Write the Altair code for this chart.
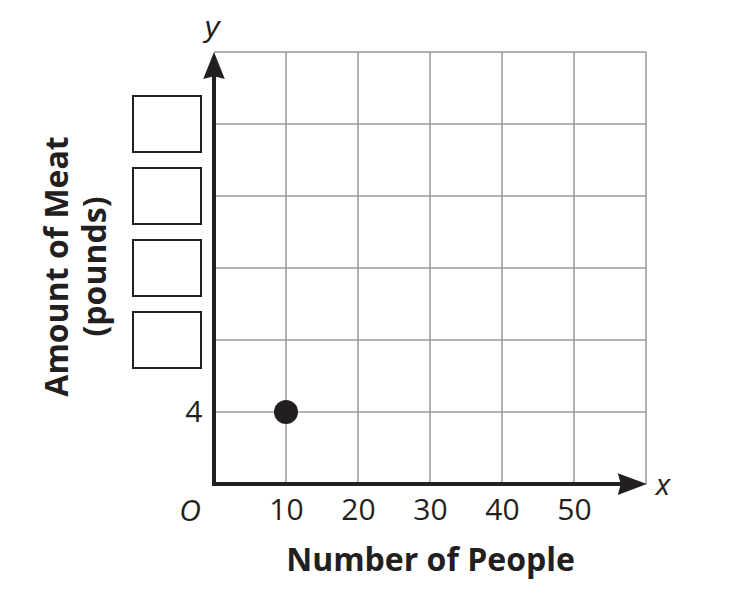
import altair as alt
import pandas as pd

# ---- data ----
x_ticks = [10, 20, 30, 40, 50]
y_ticks = [4]
grid_x = [10, 20, 30, 40, 50, 60]
grid_y = [4, 8, 12, 16, 20, 24]
box_y = [8, 12, 16, 20]
people = [10]
meat = [4]

X_DOMAIN = [0, 60]
Y_DOMAIN = [0, 24]

INK = "#231f20"
GRID = "#9b9b9b"
FONT = "Open Sans"

xs = alt.Scale(domain=X_DOMAIN, nice=False, zero=False)
ys = alt.Scale(domain=Y_DOMAIN, nice=False, zero=False)

xaxis = alt.Axis(values=x_ticks, domain=False, ticks=False, grid=False,
                 labelFont=FONT, labelFontSize=30, labelColor=INK, labelPadding=11,
                 title="Number of People", titleFont=FONT, titleFontSize=32,
                 titleFontWeight="bold", titleColor=INK, titleY=86,
                 titleBaseline="alphabetic")
yaxis = alt.Axis(values=y_ticks, domain=False, ticks=False, grid=False,
                 labelFont=FONT, labelFontSize=30, labelColor=INK, labelPadding=12,
                 title=["Amount of Meat", "(pounds)"], titleFont=FONT, titleFontSize=32,
                 titleFontWeight="bold", titleColor=INK, titleAngle=-90,
                 titleX=-147, titleY=214, titleAlign="center",
                 titleBaseline="alphabetic", titleLineHeight=38)


def X(field=None, datum=None):
    if datum is not None:
        return alt.X(datum=datum, scale=xs, axis=xaxis)
    return alt.X(field, type="quantitative", scale=xs, axis=xaxis)


def Y(field=None, datum=None):
    if datum is not None:
        return alt.Y(datum=datum, scale=ys, axis=yaxis)
    return alt.Y(field, type="quantitative", scale=ys, axis=yaxis)


gx = alt.Chart(pd.DataFrame({"gx": grid_x})).mark_rule(color=GRID, strokeWidth=1.5).encode(
    x=X("gx"), y=Y(datum=Y_DOMAIN[0]), y2=alt.Y2(datum=Y_DOMAIN[1]))
gy = alt.Chart(pd.DataFrame({"gy": grid_y})).mark_rule(color=GRID, strokeWidth=1.5).encode(
    y=Y("gy"), x=X(datum=X_DOMAIN[0]), x2=alt.X2(datum=X_DOMAIN[1]))

# axis lines with arrows
xline = alt.Chart(pd.DataFrame({"a": [0]})).mark_rule(color=INK, strokeWidth=4, strokeCap="square").encode(
    x=X(datum=0), x2=alt.X2(datum=58), y=Y(datum=0))
yline = alt.Chart(pd.DataFrame({"a": [0]})).mark_rule(color=INK, strokeWidth=4, strokeCap="square").encode(
    y=Y(datum=0), y2=alt.Y2(datum=23), x=X(datum=0))

up_arrow = alt.Chart(pd.DataFrame({"a": [0]})).mark_point(
    shape="M0,-1L0.8,1L0,0.8L-0.8,1Z", size=729, filled=True, color=INK, opacity=1).encode(
    x=X(datum=0), y=Y(datum=23.25))
right_arrow = alt.Chart(pd.DataFrame({"a": [0]})).mark_point(
    shape="M1,0L-1,0.75L-0.8,0L-1,-0.75Z", size=841, filled=True, color=INK, opacity=1).encode(
    x=X(datum=58.1), y=Y(datum=0))

# answer boxes
boxes = alt.Chart(pd.DataFrame({"by": box_y})).mark_point(
    shape="M-1,-0.82L1,-0.82L1,0.82L-1,0.82Z", size=4624, filled=False,
    stroke=INK, strokeWidth=2, opacity=1).encode(
    y=Y("by"), x=alt.value(-47))

pt = alt.Chart(pd.DataFrame({"people": people, "meat": meat})).mark_circle(
    size=576, color=INK, opacity=1).encode(x=X("people"), y=Y("meat"))

origin = alt.Chart(pd.DataFrame({"a": [0]})).mark_text(
    text="O", font=FONT, fontSize=30, fontStyle="italic", color=INK,
    dx=-24, dy=28, align="center", baseline="middle").encode(x=X(datum=0), y=Y(datum=0))
xlab = alt.Chart(pd.DataFrame({"a": [0]})).mark_text(
    text="x", font=FONT, fontSize=30, fontStyle="italic", color=INK,
    dx=17, dy=11, align="center", baseline="alphabetic").encode(x=X(datum=60), y=Y(datum=0))
ylab = alt.Chart(pd.DataFrame({"a": [0]})).mark_text(
    text="y", font="Liberation Sans", fontSize=30, fontStyle="italic", color=INK,
    dx=-2, dy=-15, align="center", baseline="alphabetic").encode(x=X(datum=0), y=Y(datum=24))

chart = alt.layer(gx, gy, boxes, xline, yline, up_arrow, right_arrow, pt, origin, xlab, ylab).properties(
    width=432, height=432,
    autosize=alt.AutoSizeParams(type="none"),
    padding={"left": 206, "top": 44, "right": 60, "bottom": 100},
).configure_view(stroke=None).configure(background="white")

chart.save("out.html", embed_options={"renderer": "svg", "actions": False})
